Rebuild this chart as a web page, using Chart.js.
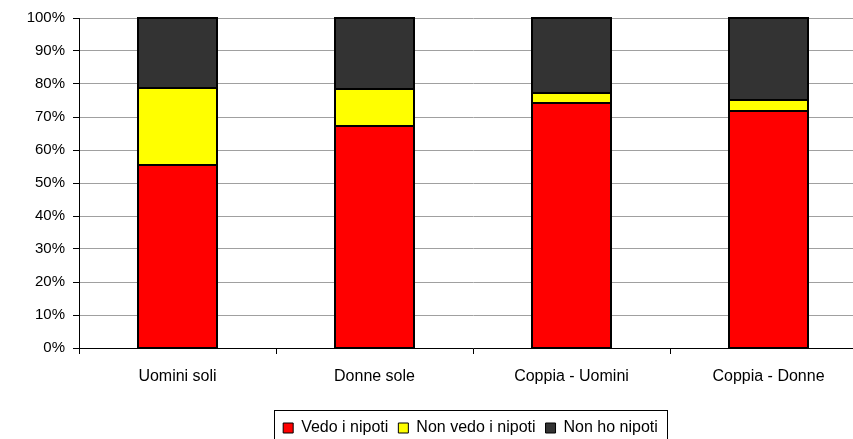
<!DOCTYPE html>
<html lang="it">
<head>
    <meta charset="UTF-8">
    <title>Nipoti</title>
    <script src="https://cdn.jsdelivr.net/npm/chart.js"></script>
    <style>
        html, body { margin: 0; padding: 0; overflow: hidden; background: #fff; }
        canvas { display: block; }
    </style>
</head>
<body>
    <canvas id="grafico" width="940" height="446"></canvas>
<script>
    // dati (percentuali)
    const categorie = ['Uomini soli', 'Donne sole', 'Coppia - Uomini', 'Coppia - Donne'];
    const vedoNipoti = [55.5, 67.3, 74.2, 71.8];
    const nonVedoNipoti = [23.3, 11.1, 3.2, 3.4];
    const nonHoNipoti = [21.2, 21.6, 22.6, 24.8];
    const tickY = [0, 10, 20, 30, 40, 50, 60, 70, 80, 90, 100];

    const FONT = 'Liberation Sans, Arial, sans-serif';

    // bordi neri netti attorno ai segmenti (posizioni prese dagli elementi del grafico)
    const bordiBarre = {
        id: 'bordiBarre',
        afterDatasetsDraw(chart) {
            const ctx = chart.ctx;
            ctx.save();
            ctx.strokeStyle = '#000';
            ctx.lineWidth = 2;
            chart.data.datasets.forEach((ds, i) => {
                chart.getDatasetMeta(i).data.forEach(bar => {
                    const p = bar.getProps(['x', 'y', 'base', 'width'], true);
                    const l = Math.round(p.x - p.width / 2);
                    const r = Math.round(p.x + p.width / 2);
                    const t = Math.round(Math.min(p.y, p.base));
                    const b = Math.round(Math.max(p.y, p.base));
                    ctx.strokeRect(l, t, r - l, b - t);
                });
            });
            ctx.restore();
        }
    };

    // sposta la legenda al centro dell'asse x e ci disegna il bordo
    const bordoLegenda = {
        id: 'bordoLegenda',
        afterLayout(chart) {
            chart.legend.left += 37;
            chart.legend.right += 37;
        },
        afterDraw(chart) {
            const hb = chart.legend.legendHitBoxes;
            if (!hb || !hb.length) return;
            const sx = Math.min(...hb.map(h => h.left)) - 9;
            const dx = Math.max(...hb.map(h => h.left + h.width)) + 9;
            const cy = hb[0].top + hb[0].height / 2;
            const ctx = chart.ctx;
            ctx.save();
            ctx.strokeStyle = '#000';
            ctx.lineWidth = 1;
            ctx.strokeRect(Math.round(sx) + 0.5, Math.round(cy - 18) + 0.5, Math.round(dx - sx), 60);
            ctx.restore();
        }
    };

    new Chart(document.getElementById('grafico'), {
        type: 'bar',
        data: {
            labels: categorie,
            datasets: [{
                label: 'Vedo i nipoti',
                data: vedoNipoti,
                backgroundColor: '#ff0000'
            }, {
                label: 'Non vedo i nipoti',
                data: nonVedoNipoti,
                backgroundColor: '#ffff00'
            }, {
                label: 'Non ho nipoti',
                data: nonHoNipoti,
                backgroundColor: '#333333'
            }]
        },
        options: {
            responsive: false,
            animation: false,
            barPercentage: 0.406,
            categoryPercentage: 1,
            datasets: {
                bar: { borderWidth: 0 }
            },
            layout: { padding: { top: 18, right: 73, left: 0, bottom: 0 } },
            plugins: {
                tooltip: { enabled: false },
                legend: {
                    position: 'bottom',
                    labels: {
                        color: '#000',
                        boxWidth: 10,
                        boxHeight: 10,
                        padding: 10,
                        font: { size: 16, family: FONT },
                        generateLabels(chart) {
                            const l = Chart.defaults.plugins.legend.labels.generateLabels(chart);
                            l.forEach(it => { it.lineWidth = 1; it.strokeStyle = '#000'; });
                            return l;
                        }
                    }
                }
            },
            scales: {
                x: {
                    stacked: true,
                    border: { color: '#000', width: 1 },
                    grid: {
                        offset: true,
                        drawOnChartArea: false,
                        drawTicks: true,
                        tickLength: 6,
                        tickColor: '#000'
                    },
                    ticks: {
                        color: '#000',
                        padding: 13,
                        maxRotation: 0,
                        font: { size: 16, family: FONT }
                    },
                    afterFit(scale) { scale.height = 62; }
                },
                y: {
                    stacked: true,
                    min: 0,
                    max: 100,
                    border: { color: '#000', width: 1 },
                    grid: {
                        color: '#a0a0a0',
                        tickColor: '#000',
                        tickLength: 6
                    },
                    afterBuildTicks(scale) {
                        scale.ticks = tickY.map(v => ({ value: v }));
                    },
                    ticks: {
                        color: '#000',
                        padding: 8,
                        font: { size: 15, family: FONT },
                        callback: v => v + '%'
                    },
                    afterFit(scale) { scale.width = 79; }
                }
            }
        },
        plugins: [bordiBarre, bordoLegenda]
    });
</script>
</body>
</html>
